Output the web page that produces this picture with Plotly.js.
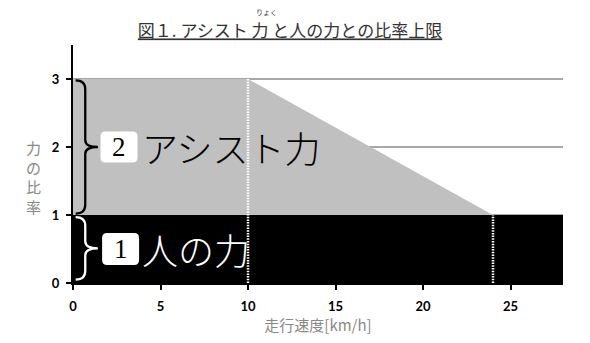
<!DOCTYPE html>
<html>
<head>
<meta charset="utf-8">
<script src="https://cdn.plot.ly/plotly-3.0.1.min.js"></script>
<style>html,body{margin:0;padding:0;background:#fff;}#chart{width:590px;height:343px;}</style>
</head>
<body>
<div id="chart"></div>
<script>
// ---- data ----
const assistSpeed = [0, 10, 24, 28];      // km/h
const assistRatio = [3, 3, 1, 1];         // upper limit of (assist + human) ratio
const humanSpeed = [0, 28];
const humanRatio = [1, 1];
const markerSpeeds = [10, 24];            // dotted guide lines
const markerTops = [3, 1];
const xTicks = [0, 5, 10, 15, 20, 25];
const yTicks = [0, 1, 2, 3];
const titleText = '図１. アシスト 力 と人の力との比率上限';
const rubyText = 'りょく';
const xTitle = '走行速度[km/h]';
const yTitle = ['力', 'の', '比', '率'];
const assistLabel = 'アシスト力';
const humanLabel = '人の力';

const JP = '"Noto Sans CJK JP", "Noto Sans", sans-serif';
const TICKFONT = {family: 'Lato, "Open Sans", sans-serif', size: 13, color: '#000', weight: 700};

const traces = [
  {x: assistSpeed, y: assistRatio, type: 'scatter', mode: 'lines', fill: 'tozeroy',
   fillcolor: '#c0c0c0', line: {width: 0, color: '#c0c0c0'}, hoverinfo: 'skip', showlegend: false},
  {x: humanSpeed, y: humanRatio, type: 'scatter', mode: 'lines', fill: 'tozeroy',
   fillcolor: '#000000', line: {width: 0, color: '#000'}, hoverinfo: 'skip', showlegend: false}
];
markerSpeeds.forEach((s, i) => {
  traces.push({x: [s, s], y: [0, markerTops[i]], type: 'scatter', mode: 'lines',
    line: {color: '#ffffff', width: 2.5, dash: '1.5px,1.2px'}, hoverinfo: 'skip', showlegend: false});
});

function roundedBox(cx, cy, w, h, r) {
  const a = w / 2, b = h / 2;
  return {
    type: 'path', xref: 'x', yref: 'y', xsizemode: 'pixel', ysizemode: 'pixel',
    xanchor: cx, yanchor: cy,
    path: `M ${-a + r},${-b} L ${a - r},${-b} Q ${a},${-b} ${a},${-b + r} L ${a},${b - r} Q ${a},${b} ${a - r},${b} L ${-a + r},${b} Q ${-a},${b} ${-a},${b - r} L ${-a},${-b + r} Q ${-a},${-b} ${-a + r},${-b} Z`,
    fillcolor: '#ffffff', line: {width: 0}, layer: 'above'
  };
}
function brace(y0, y1, color) {
  const m = (y0 + y1) / 2, c = 0.13;
  return {
    type: 'path', xref: 'x', yref: 'y', layer: 'above',
    path: `M 0.15,${y1} Q 0.7,${y1} 0.7,${y1 - c} L 0.7,${m + c * 0.8} Q 0.7,${m} 1.42,${m} Q 0.7,${m} 0.7,${m - c * 0.8} L 0.7,${y0 + c} Q 0.7,${y0} 0.15,${y0}`,
    line: {color: color, width: 2.3}
  };
}

const layout = {
  width: 590, height: 343,
  margin: {l: 73, r: 27, t: 45, b: 60},
  paper_bgcolor: '#ffffff', plot_bgcolor: '#ffffff',
  title: {
    text: titleText, x: 290 / 590, xanchor: 'center', y: 1 - 31.5 / 343, yanchor: 'middle',
    yref: 'container', xref: 'container',
    font: {family: JP, size: 17, color: '#333333', lineposition: 'under'}
  },
  xaxis: {
    range: [0, 28], tickvals: xTicks, ticktext: xTicks.map(String),
    ticks: 'outside', ticklen: 5, tickwidth: 2, tickcolor: '#000',
    showline: true, linecolor: '#000', linewidth: 2, showgrid: false, zeroline: false,
    tickfont: TICKFONT, ticklabelstandoff: 5,
    title: {text: xTitle, standoff: 0, font: {family: JP, size: 15, color: '#888888'}},
    fixedrange: true
  },
  yaxis: {
    range: [0, 3.5], tickvals: yTicks, ticktext: yTicks.map(String),
    ticks: 'outside', ticklen: 5, tickwidth: 2, tickcolor: '#000',
    showline: true, linecolor: '#000', linewidth: 2,
    showgrid: true, gridcolor: '#a8a8a8', gridwidth: 1.5, zeroline: false,
    tickfont: TICKFONT, ticklabelstandoff: 4,
    fixedrange: true
  },
  shapes: [
    brace(1.02, 2.98, '#000000'),
    brace(0.05, 0.97, '#ffffff'),
    roundedBox(2.63, 2, 37, 31, 5),
    roundedBox(2.72, 0.5, 37, 32, 5)
  ],
  annotations: [
    {text: rubyText, xref: 'paper', yref: 'paper', x: (266 - 73) / 490, y: (283 - 12) / 238,
     xanchor: 'center', yanchor: 'middle',
     showarrow: false, font: {family: JP, size: 7, color: '#333'}},
    {text: yTitle.join('<br>'), xref: 'paper', yref: 'paper', x: (33 - 73) / 490, y: (283 - 177) / 238,
     xanchor: 'center', yanchor: 'middle', showarrow: false,
     font: {family: JP, size: 15, color: '#888888'}},
    {text: '2', xref: 'x', yref: 'y', x: 2.63, y: 2, showarrow: false,
     font: {family: '"Liberation Serif", "DejaVu Serif", serif', size: 27, color: '#000'}},
    {text: '1', xref: 'x', yref: 'y', x: 2.72, y: 0.5, showarrow: false,
     font: {family: '"Liberation Serif", "DejaVu Serif", serif', size: 27, color: '#000'}},
    {text: assistLabel, xref: 'x', yref: 'y', x: 3.8, y: 2, xanchor: 'left', showarrow: false,
     font: {family: JP, size: 36, color: '#000', weight: 300}},
    {text: humanLabel, xref: 'x', yref: 'y', x: 3.8, y: 0.5, xanchor: 'left', showarrow: false,
     font: {family: JP, size: 36, color: '#fff', weight: 300}}
  ]
};

Plotly.newPlot('chart', traces, layout, {displayModeBar: false, staticPlot: true});
</script>
</body>
</html>
